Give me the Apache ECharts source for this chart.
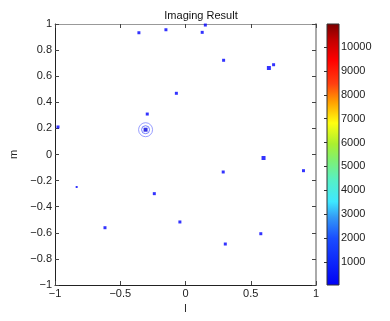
<!DOCTYPE html>
<html><head><meta charset="utf-8">
<script src="https://cdn.jsdelivr.net/npm/echarts@6/dist/echarts.min.js"></script>
<style>html,body{margin:0;padding:0;background:#fff}#c{width:390px;height:321px}</style>
</head><body><div id="c"></div>
<script>
// point sources (l, m)
var pointL = [-0.357, -0.150, 0.152, 0.128, 0.292, 0.639, 0.675, -0.070, -0.293, -0.977, 0.598, 0.289, 0.904, -0.834, -0.239, -0.043, -0.617, 0.577, 0.305];
var pointM = [0.933, 0.956, 0.992, 0.936, 0.722, 0.663, 0.688, 0.469, 0.310, 0.211, -0.027, -0.134, -0.124, -0.249, -0.300, -0.517, -0.561, -0.607, -0.686];
var pointSize = [3, 3, 3, 3, 3, 4, 3, 3, 3, 3, 4, 3, 3, 2, 3, 3, 3, 3, 3];
// strong source with contour rings
var peakL = [-0.306];
var peakM = [0.190];
var xTicks = [-1, -0.5, 0, 0.5, 1];
var yTicks = [-1, -0.8, -0.6, -0.4, -0.2, 0, 0.2, 0.4, 0.6, 0.8, 1];
var cbTicks = [1000, 2000, 3000, 4000, 5000, 6000, 7000, 8000, 9000, 10000];
var cbMin = 30, cbMax = 10970;

var FONT = 'Liberation Sans, Arial, sans-serif';
function fmt(v){ var s = String(Math.round(v*10)/10); return s.replace('-', '\u2212'); }

var pts = pointL.map(function(l,i){ return {value:[l, pointM[i]], symbolSize: pointSize[i]}; });
var peak = peakL.map(function(l,i){ return [l, peakM[i]]; });

var chart = echarts.init(document.getElementById('c'), null, {renderer:'canvas'});
var axBase = {
  min:-1, max:1, interval:0.5,
  axisLine:{show:true, onZero:false, lineStyle:{color:'#222', width:1}},
  axisTick:{show:true, inside:true, length:4, lineStyle:{color:'#444'}},
  splitLine:{show:false},
  axisLabel:{fontFamily:FONT, fontSize:11, color:'#222', margin:3, formatter:fmt}
};
chart.setOption({
  animation:false,
  backgroundColor:'#fff',
  title:{text:'Imaging Result', left:196, top:5, textAlign:'center', textStyle:{fontFamily:FONT, fontSize:11, fontWeight:'normal', color:'#111'}},
  grid:[
    {left:55, top:24, width:261, height:261},
    {left:327, top:24, width:12, height:261}
  ],
  xAxis:[
    Object.assign({}, axBase, {gridIndex:0, position:'bottom', name:'l', nameLocation:'middle', nameGap:17,
      nameTextStyle:{fontFamily:FONT, fontSize:11, color:'#222'}}),
    Object.assign({}, axBase, {gridIndex:0, position:'top', axisLabel:{show:false},
      axisLine:{show:true, onZero:false, lineStyle:{color:'#999', width:1}}}),
    {gridIndex:1, type:'value', min:0, max:1, show:false}
  ],
  yAxis:[
    Object.assign({}, axBase, {gridIndex:0, interval:0.2, position:'left', name:'m', nameLocation:'middle', nameGap:28, nameRotate:90,
      nameTextStyle:{fontFamily:FONT, fontSize:11, color:'#222'}}),
    Object.assign({}, axBase, {gridIndex:0, interval:0.2, position:'right', axisLabel:{show:false},
      axisLine:{show:true, onZero:false, lineStyle:{color:'#aaa', width:2}}}),
    {gridIndex:1, type:'value', min:cbMin, max:cbMax, position:'right',
      axisLine:{show:false},
      axisTick:{show:true, inside:true, length:3, customValues:cbTicks, lineStyle:{color:'#333'}},
      splitLine:{show:false},
      axisLabel:{fontFamily:FONT, fontSize:11, color:'#222', margin:2, customValues:cbTicks,
        formatter:function(v){ return String(v); }}}
  ],
  series:[
    {type:'custom', xAxisIndex:2, yAxisIndex:2, silent:true, z:1,
      data:[[0, cbMin, 1, cbMax]],
      renderItem:function(params, api){
        var p0 = api.coord([api.value(0), api.value(1)]);
        var p1 = api.coord([api.value(2), api.value(3)]);
        return {type:'rect', shape:{x:p0[0], y:p1[1], width:p1[0]-p0[0], height:p0[1]-p1[1]},
          style:{stroke:'#333', lineWidth:1, fill:new echarts.graphic.LinearGradient(0,1,0,0,[
            {offset:0, color:'#0000f5'},
            {offset:0.18, color:'#1a4dff'},
            {offset:0.26, color:'#3399f5'},
            {offset:0.32, color:'#3ee8ff'},
            {offset:0.40, color:'#55f0c8'},
            {offset:0.48, color:'#80f070'},
            {offset:0.54, color:'#aaf030'},
            {offset:0.62, color:'#ffff10'},
            {offset:0.70, color:'#ffa000'},
            {offset:0.77, color:'#ff4010'},
            {offset:0.86, color:'#ff0000'},
            {offset:0.94, color:'#c00000'},
            {offset:1, color:'#7a0000'}
          ])}};
      }},
    {type:'scatter', xAxisIndex:0, yAxisIndex:0, data:pts, symbol:'rect',
      itemStyle:{color:'#0000ff'}, z:3},
    {type:'scatter', xAxisIndex:0, yAxisIndex:0, data:peak, symbol:'circle', symbolSize:14,
      itemStyle:{color:'rgba(0,0,0,0)', borderColor:'#7f86ff', borderWidth:1}, z:3},
    {type:'scatter', xAxisIndex:0, yAxisIndex:0, data:peak, symbol:'circle', symbolSize:8,
      itemStyle:{color:'rgba(0,0,0,0)', borderColor:'#5560ff', borderWidth:1}, z:3},
    {type:'scatter', xAxisIndex:0, yAxisIndex:0, data:peak, symbol:'rect', symbolSize:4,
      itemStyle:{color:'#0000dd'}, z:4}
  ]
});
</script></body></html>
